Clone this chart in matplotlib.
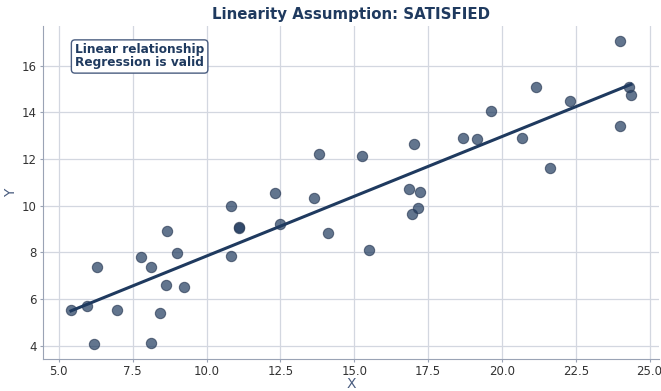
import matplotlib.pyplot as plt
import numpy as np

# observed points
x = [5.41, 5.94, 6.18, 6.30, 6.96, 7.79, 8.12, 8.12, 8.41, 8.67,
     8.64, 9.00, 9.25, 10.84, 10.82, 11.09, 11.09, 12.32, 12.48, 13.63,
     13.80, 14.10, 15.27, 15.50, 16.84, 17.02, 16.97, 17.15, 17.23, 18.67,
     19.15, 19.63, 20.68, 21.14, 21.63, 22.31, 24.00, 24.01, 24.30, 24.37]
y = [5.52, 5.68, 4.08, 7.37, 5.51, 7.81, 7.37, 4.11, 5.41, 8.92,
     6.62, 7.99, 6.53, 9.98, 7.84, 9.08, 9.06, 10.56, 9.23, 10.32,
     12.22, 8.81, 12.12, 8.11, 10.71, 12.63, 9.66, 9.92, 10.60, 12.90,
     12.85, 14.07, 12.90, 15.10, 11.62, 14.49, 17.04, 13.43, 15.07, 14.76]

title = "Linearity Assumption: SATISFIED"
note = "Linear relationship\nRegression is valid"

navy = "#1f3a5f"
x = np.array(x)
y = np.array(y)

fig = plt.figure(figsize=(6.61, 3.91), dpi=100)
ax = fig.add_axes([0.065, 0.082, 0.932, 0.851])

ax.scatter(x, y, s=55, color=navy, alpha=0.7, edgecolor="#2e3e58",
           linewidth=0.8, zorder=3)

slope, intercept = np.polyfit(x, y, 1)
xs = np.array([x.min(), x.max()])
ax.plot(xs, intercept + slope * xs, color=navy, linewidth=2.2, zorder=4)

ax.set_xticks(np.arange(5, 25.1, 2.5))
ax.set_yticks([4, 6, 8, 10, 12, 14, 16])
ax.grid(True, color="#d3d7e0", linewidth=0.9)
ax.set_axisbelow(True)
for side in ["top", "right"]:
    ax.spines[side].set_visible(False)
for side in ["left", "bottom"]:
    ax.spines[side].set_color("#9aa3b5")
ax.tick_params(colors="#9aa3b5", labelcolor="#333333", labelsize=8.5,
               length=2.5, pad=2)

ax.set_xlabel("X", color="#4a5d80", fontsize=10)
ax.set_ylabel("Y", color="#4a5d80", fontsize=10)
ax.xaxis.set_label_coords(0.5, -0.055)
ax.yaxis.set_label_coords(-0.041, 0.5)
ax.set_title(title, color=navy, fontsize=10.8, fontweight="bold", pad=5)

ax.text(0.052, 0.948, note, transform=ax.transAxes, fontsize=8.7,
        fontweight="bold", color=navy, va="top", linespacing=1.0,
        bbox=dict(boxstyle="round,pad=0.3", facecolor="white",
                  edgecolor="#4a5d80", linewidth=1))

fig.savefig("out.png", dpi=100)
